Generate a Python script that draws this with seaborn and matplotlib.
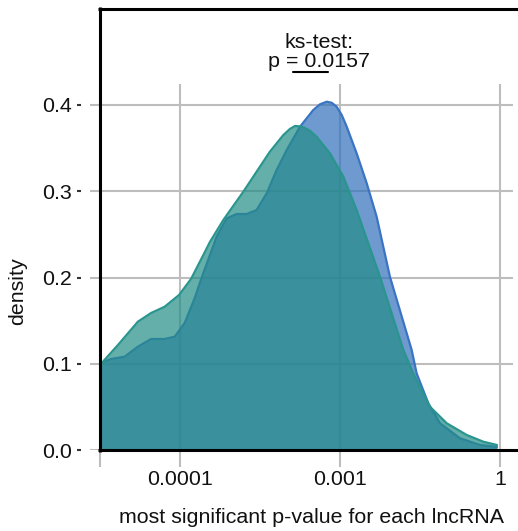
import numpy as np
import pandas as pd
import matplotlib
matplotlib.use("Agg")
import matplotlib.pyplot as plt
from matplotlib.lines import Line2D
import seaborn as sns

# ---- data (x in log10 units of the p-value) ----
blue_x = [-4.500, -4.431, -4.346, -4.263, -4.181, -4.096, -4.033, -3.971, -3.908,
          -3.863, -3.771, -3.708, -3.646, -3.583, -3.521, -3.458, -3.396, -3.333,
          -3.250, -3.167, -3.125, -3.083, -3.052, -3.021, -2.989, -2.958, -2.896,
          -2.833, -2.771, -2.688, -2.552, -2.521, -2.448, -2.375, -2.250, -2.125,
          -2.019]
blue_density = [0.1005, 0.1055, 0.1082, 0.1198, 0.1287, 0.1287, 0.1314, 0.1472, 0.1762,
                0.2006, 0.2473, 0.2686, 0.2736, 0.2736, 0.2783, 0.2976, 0.3246, 0.3478,
                0.3748, 0.3942, 0.4008, 0.4038, 0.4026, 0.3980, 0.3884, 0.3748, 0.3440,
                0.3092, 0.2705, 0.2009, 0.1159, 0.0889, 0.0541, 0.0310, 0.0136, 0.0058,
                0.0035]

teal_x = [-4.500, -4.388, -4.263, -4.181, -4.096, -4.006, -3.931, -3.846, -3.813,
          -3.729, -3.604, -3.521, -3.438, -3.354, -3.313, -3.281, -3.250, -3.229,
          -3.188, -3.146, -3.063, -2.979, -2.896, -2.750, -2.604, -2.542, -2.438,
          -2.333, -2.208, -2.104, -2.019]
teal_density = [0.0986, 0.1217, 0.1488, 0.1588, 0.1661, 0.1797, 0.1983, 0.2290, 0.2412,
                0.2667, 0.2995, 0.3227, 0.3459, 0.3652, 0.3722, 0.3757, 0.3752, 0.3742,
                0.3702, 0.3632, 0.3440, 0.3169, 0.2783, 0.2009, 0.1159, 0.0889, 0.0502,
                0.0310, 0.0174, 0.0096, 0.0058]

x_ticks = [-4.5, -4.0, -3.0, -2.0]
x_tick_labels = ["", "0.0001", "0.001", "1"]
y_ticks = [0.0, 0.1, 0.2, 0.3, 0.4]
y_tick_labels = ["0.0", "0.1", "0.2", "0.3", "0.4"]

annotation_lines = ["ks-test:", "p = 0.0157"]
x_label = "most significant p-value for each lncRNA"
y_label = "density"

blue_line, blue_fill = "#3a74c2", "#3170bc"
teal_line, teal_fill = "#2a958e", "#248d87"
text_col = "#111111"
FS = 15.4

# ---- style ----
sns.set_style("whitegrid")
plt.rcParams["font.family"] = ["Liberation Sans", "DejaVu Sans"]
plt.rcParams["font.size"] = FS

W, H = 518, 531
fig = plt.figure(figsize=(W / 100, H / 100), dpi=100)
ax_left, ax_right, ax_top, ax_bottom = 90, 513, 84, 450
ax = fig.add_axes([ax_left / W, 1 - ax_bottom / H,
                   (ax_right - ax_left) / W, (ax_bottom - ax_top) / H])

df_blue = pd.DataFrame({"log10_p": blue_x, "density": blue_density})
df_teal = pd.DataFrame({"log10_p": teal_x, "density": teal_density})

ax.fill_between(df_blue["log10_p"], 0, df_blue["density"], color=blue_fill,
                alpha=0.7, linewidth=0, zorder=2)
sns.lineplot(data=df_blue, x="log10_p", y="density", color=blue_line,
             linewidth=1.6, sort=False, ax=ax, zorder=3,
             solid_joinstyle="round", solid_capstyle="round")
ax.fill_between(df_teal["log10_p"], 0, df_teal["density"], color=teal_fill,
                alpha=0.7, linewidth=0, zorder=4)
sns.lineplot(data=df_teal, x="log10_p", y="density", color=teal_line,
             linewidth=1.6, sort=False, ax=ax, zorder=5,
             solid_joinstyle="round", solid_capstyle="round")

ax.set_xlim(-4.5 - (100 - ax_left) / 160, -4.5 + (ax_right - 100) / 160)
ax.set_ylim(0, (ax_bottom - ax_top) / 862.5)

ax.set_xticks(x_ticks)
ax.set_xticklabels(x_tick_labels)
ax.set_yticks(y_ticks)
ax.set_yticklabels(y_tick_labels)

grid_col = "#bdbdbd"
ax.grid(True, color=grid_col, linewidth=1.5)
ax.set_axisbelow(True)
for s in ax.spines.values():
    s.set_visible(False)
ax.spines["left"].set_position(("outward", 6.7))

ax.tick_params(axis="x", direction="out", length=12.5, width=1.5, color=grid_col,
               pad=2, labelsize=FS, labelcolor=text_col, bottom=True)
ax.tick_params(axis="y", direction="out", length=3, width=1.5, color="#333333",
               pad=3.2, labelsize=FS, labelcolor=text_col, left=True)

ax.set_xlabel(x_label, fontsize=FS, color=text_col)
ax.xaxis.label.set_va("baseline")
ax.xaxis.set_label_coords((311.7 - ax_left) / (ax_right - ax_left),
                          (ax_bottom - 523.3) / (ax_bottom - ax_top))
ax.set_ylabel(y_label, fontsize=FS, color=text_col)
ax.yaxis.label.set_va("center")
ax.yaxis.set_label_coords((18 - ax_left) / (ax_right - ax_left),
                          (ax_bottom - 291) / (ax_bottom - ax_top))

# frame lines (pixel coordinates converted to figure fraction)
def px(x, y):
    return x / W, 1 - y / H

for (x0, y0), (x1, y1) in [((99.5, 7.0), (99.5, 451.5)),
                           ((98.0, 8.5), (518.0, 8.5)),
                           ((98.0, 450.0), (518.0, 450.0))]:
    a, b = px(x0, y0)
    c, d = px(x1, y1)
    fig.add_artist(Line2D([a, c], [b, d], color="black", linewidth=2.2,
                          solid_capstyle="butt", transform=fig.transFigure, zorder=10))

# annotation
fig.text(318.5 / W, 1 - 48.3 / H, annotation_lines[0], ha="center", va="baseline",
         fontsize=FS, color=text_col)
fig.text(318.5 / W, 1 - 66.7 / H, annotation_lines[1], ha="center", va="baseline",
         fontsize=FS, color=text_col)
a, b = px(293.3, 72.3)
c, d = px(328.3, 72.3)
fig.add_artist(Line2D([a, c], [b, d], color="black", linewidth=1.5,
                      transform=fig.transFigure))

fig.savefig("out.png", dpi=100)
